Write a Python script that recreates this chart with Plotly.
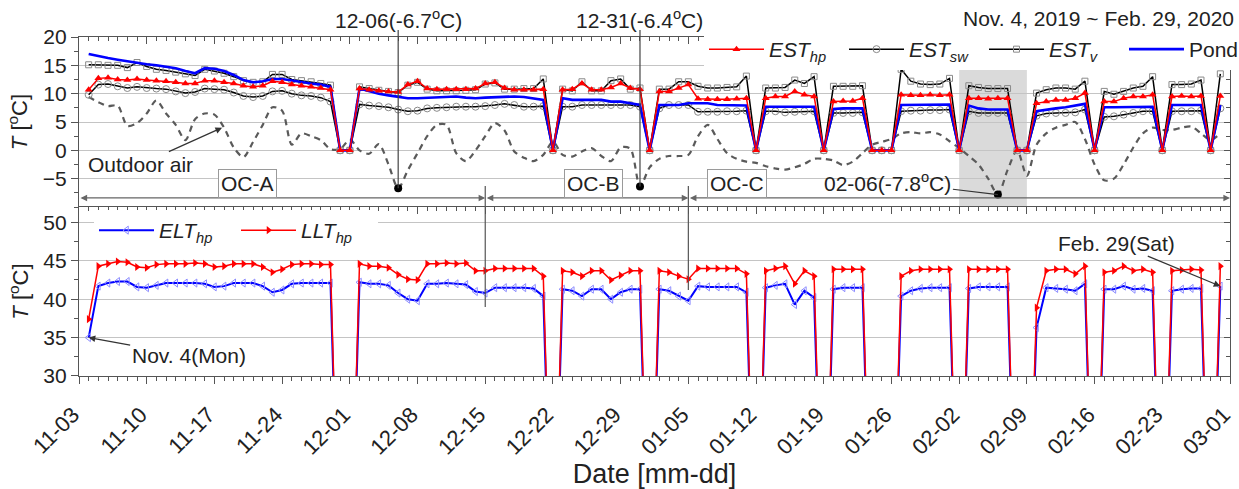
import pandas as pd
import plotly.graph_objects as go

# ---------------- data ----------------
dates = pd.date_range("2019-11-04", "2020-02-29", freq="D").strftime("%Y-%m-%d").tolist()

est_hp = [10.7, 12.7, 12.8, 12.5, 12.4, 12.6, 12.4, 12.3, 12.2, 12.0, 11.8, 11.8, 12.3, 12.3, 12.0, 11.8, 11.4, 11.2, 11.4, 12.2, 12.0, 11.6, 11.4, 11.2, 11.0, 10.7,
          0, 0,
          10.9, 10.7, 10.5, 10.4, 10.3, 11.6, 12.2, 10.9, 10.8, 10.8, 10.8, 10.8, 10.9, 11.8, 12.0, 11.0, 10.7, 10.7, 10.7, 10.8,
          0,
          10.7, 10.8, 11.8, 10.7, 10.7, 11.1, 11.8, 11.0, 10.8,
          0,
          10.4, 10.4, 11.0, 11.6, 9.1, 9.0, 9.0, 9.0, 9.1, 9.2,
          0,
          9.2, 9.5, 9.5, 10.4, 9.8, 9.5,
          0,
          8.6, 8.7, 8.7, 9.2,
          0, 0, 0,
          9.8, 9.7, 9.7, 9.8, 9.7, 9.8,
          0,
          9.2, 9.2, 9.1, 9.2, 9.2,
          0, 0,
          8.3, 8.6, 8.9, 8.9, 9.2, 10.1,
          0,
          8.6, 8.6, 9.2, 9.5, 9.5, 9.8,
          0,
          9.5, 9.6, 9.5, 9.6,
          0,
          9.6]

est_v = [15.1, 15.1, 15.0, 15.0, 14.6, 15.5, 14.8, 14.3, 14.1, 13.8, 13.5, 13.2, 14.3, 14.0, 13.6, 13.0, 12.3, 12.0, 12.1, 13.4, 13.4, 12.5, 12.3, 12.1, 11.8, 11.5,
         0, 0,
         11.2, 10.9, 10.6, 10.4, 10.2, 11.5, 12.0, 10.8, 10.5, 10.5, 10.5, 10.6, 10.7, 11.7, 11.9, 10.8, 10.8, 10.9, 10.9, 12.6,
         0,
         10.8, 10.5, 12.1, 10.5, 10.5, 12.3, 12.6, 10.8, 11.0,
         0,
         10.8, 10.8, 12.1, 12.1, 11.3, 11.0, 11.0, 11.1, 11.2, 13.1,
         0,
         11.0, 11.0, 11.1, 12.4, 11.8, 13.0,
         0,
         11.3, 11.3, 11.3, 11.4,
         0, 0, 0,
         14.3, 12.2, 11.7, 11.6, 11.7, 12.7,
         0,
         11.4, 11.1, 10.9, 10.9, 10.9,
         0, 0,
         10.1, 10.7, 11.0, 11.0, 10.8, 12.2,
         0,
         10.4, 9.9, 10.4, 11.0, 11.3, 13.0,
         0,
         11.6, 11.6, 11.7, 12.4,
         0,
         13.5]

est_sw = [9.8, 11.6, 11.7, 11.3, 11.0, 11.2, 11.0, 10.9, 10.8, 10.4, 10.1, 10.3, 10.9, 10.8, 10.7, 10.2, 9.6, 9.4, 9.6, 10.4, 10.5, 10.0, 9.7, 9.6, 9.3, 8.6,
          0, 0,
          8.1, 7.9, 7.8, 7.6, 7.2, 6.9, 7.0, 7.4, 7.5, 7.6, 7.7, 7.7, 7.7, 7.8, 8.0, 8.2, 8.0, 7.7, 7.7, 7.8,
          0,
          7.7, 7.7, 8.0, 8.0, 8.0, 8.0, 8.0, 8.0, 7.7,
          0,
          7.4, 8.0, 8.0, 8.0, 6.8, 6.8, 6.8, 6.9, 6.9, 7.0,
          0,
          6.9, 6.9, 6.7, 6.8, 6.9, 6.9,
          0,
          6.6, 6.6, 6.6, 6.7,
          0, 0, 0,
          6.9, 7.0, 7.0, 7.1, 7.1, 7.2,
          0,
          6.9, 6.6, 6.6, 6.6, 6.6,
          0, 0,
          6.1, 6.5, 6.6, 6.6, 6.7, 7.2,
          0,
          5.9, 6.0, 6.3, 6.6, 6.9, 6.9,
          0,
          6.9, 6.9, 6.9, 7.0,
          0,
          7.4]

pond = [17.0, 16.6, 16.3, 16.0, 15.7, 15.5, 15.2, 15.0, 14.8, 14.5, 14.0, 13.6, 14.5, 14.4, 14.0, 13.3, 12.4, 12.0, 12.2, 12.6, 12.6, 12.3, 12.0, 11.8, 11.6, 11.2,
        0, 0,
        10.9, 10.4, 10.0, 9.7, 9.4, 9.2, 9.2, 9.3, 9.4, 9.5, 9.5, 9.3, 9.2, 9.3, 9.4, 9.5, 9.5, 9.4, 9.2, 8.9,
        0,
        9.2, 8.9, 8.9, 8.9, 8.9, 8.6, 8.6, 8.3, 8.0,
        0,
        8.0, 8.0, 8.0, 8.3, 8.3, 8.3, 8.0, 8.0, 8.0, 7.9,
        0,
        7.7, 7.7, 7.7, 7.8, 7.7, 7.7,
        0,
        7.3, 7.4, 7.4, 7.4,
        0, 0, 0,
        8.0, 8.0, 8.0, 8.0, 8.1, 8.1,
        0,
        7.9, 7.4, 7.2, 7.2, 7.2,
        0, 0,
        6.9, 7.2, 7.4, 7.6, 7.9, 8.2,
        0,
        7.6, 7.6, 7.6, 7.7, 7.7, 7.7,
        0,
        8.0, 8.0, 8.0, 8.0,
        0,
        8.0]

outdoor = [9.4, 8.5, 7.8, 7.9, 4.3, 4.8, 6.5, 8.8, 6.5, 4.5, 1.8, 5.5, 6.5, 6.3, 4.0, 0.5, -1.2, 1.5, 4.5, 7.6, 7.0, 1.0, 3.0, 2.5, 1.8, 0.2,
           0.2, 1.9, 0.0, -0.6, 1.1, -2.5, -6.7,
           -3.5, -0.5, 2.5, 4.5, 4.5, -0.5, -1.9, 0.0, 2.5, 4.8, 3.5, -0.2, -1.3, -1.9, -0.8, 1.5, -0.8, -1.1, -0.2, 0.4, -1.0, -1.9, 0.5, 0.3, -6.4,
           -3.0, -1.5, -1.0, -1.0, -0.8, 2.5, 4.5, 2.0, -0.5, -1.5, -2.0, -2.2, -2.8, -3.2, -3.4, -3.0, -2.4, -1.5, -1.5, -1.8, -2.6, -2.0, -0.5,
           1.0, 1.5, 2.0, 3.0, 3.2, 3.0, 3.2, 2.8, 1.6, 0.4, -1.0, -2.5, -5.0, -7.8, -3.5, 0.0, -4.5, 1.0, 3.0, 4.0, 4.5, 5.0, 2.0,
           -2.5, -5.3, -5.0, -2.5, 0.5, 3.0, 4.0, 3.6, 3.6, 4.0, 4.2, 3.0, 1.8, 3.0]

llt_hp = [37.4, 44.3, 44.6, 44.9, 44.8, 44.2, 44.1, 44.5, 44.6, 44.6, 44.6, 44.7, 44.6, 44.2, 44.3, 44.6, 44.6, 44.6, 44.2, 43.5, 43.9, 44.5, 44.6, 44.6, 44.5, 44.5,
          0, 0,
          44.6, 44.3, 44.3, 44.1, 43.2, 42.6, 42.5, 44.6, 44.6, 44.7, 44.6, 44.7, 43.7, 43.7, 44.0, 44.0, 44.0, 44.0, 44.0, 43.0,
          0,
          43.7, 43.5, 43.0, 43.7, 43.7, 42.5, 43.1, 43.7, 43.7,
          0,
          43.7, 43.5, 43.0, 42.6, 44.0, 44.0, 44.0, 44.0, 44.0, 43.3,
          0,
          43.7, 44.0, 44.3, 42.0, 43.7, 43.0,
          0,
          43.9, 43.9, 43.9, 43.9,
          0, 0, 0,
          43.0, 43.7, 43.9, 43.9, 43.9, 43.9,
          0,
          43.9, 43.9, 43.9, 43.9, 43.9,
          0, 0,
          38.9, 43.7, 43.9, 43.9, 43.3, 44.3,
          0,
          43.5, 43.7, 44.3, 43.7, 43.9, 43.5,
          0,
          43.7, 43.8, 43.9, 43.8,
          0,
          44.3]

elt_hp = [35.0, 41.7, 42.1, 42.3, 42.3, 41.6, 41.5, 41.8, 42.1, 42.1, 42.1, 42.1, 42.0, 41.6, 41.7, 42.1, 42.1, 42.1, 41.7, 40.9, 41.2, 42.0, 42.1, 42.1, 42.1, 42.1,
          0, 0,
          42.2, 42.0, 42.0, 41.8, 40.8, 40.0, 39.8, 42.0, 42.0, 42.1, 42.0, 41.9, 41.0, 40.8, 41.5, 41.5, 41.5, 41.5, 41.4, 40.4,
          0,
          41.3, 41.1, 40.4, 41.3, 41.3, 40.0, 40.9, 41.3, 41.3,
          0,
          41.3, 41.1, 40.4, 39.8, 41.7, 41.6, 41.6, 41.6, 41.6, 40.9,
          0,
          41.5, 41.8, 42.0, 39.3, 41.1, 40.2,
          0,
          41.3, 41.5, 41.5, 41.5,
          0, 0, 0,
          40.4, 41.1, 41.4, 41.5, 41.5, 41.5,
          0,
          41.4, 41.6, 41.6, 41.6, 41.6,
          0, 0,
          36.3, 41.5, 41.4, 41.3, 41.1, 42.0,
          0,
          41.3, 41.3, 41.7, 41.3, 41.4, 41.1,
          0,
          41.1, 41.3, 41.4, 41.4,
          0,
          41.7]

min_dates = ["2019-12-06", "2019-12-31", "2020-02-06"]
min_temps = [-6.7, -6.4, -7.8]

period_bounds = ["2019-11-03", "2019-12-15", "2020-01-05", "2020-03-01"]
period_names = ["OC-A", "OC-B", "OC-C"]
period_label_x = ["2019-11-20T10:00", "2019-12-26T04:00", "2020-01-10T01:00"]

# ---------------- style ----------------
FONT = "Arial, Liberation Sans, sans-serif"
AX = "#555555"
GRID = "#c4c4c4"
X0, X1 = "2019-11-03", "2020-03-01"
DAY = 86400000
TOP_DOM = [0.4985, 1.0]
BOT_DOM = [0.0, 0.4985]
TOP_RANGE = [-10, 20]
BOT_RANGE = [30, 52]
PLOT_L, PLOT_W, PLOT_B, PLOT_H = 79, 1151, 376, 339


def top_paper(v):
    return TOP_DOM[0] + (v - TOP_RANGE[0]) / (TOP_RANGE[1] - TOP_RANGE[0]) * (TOP_DOM[1] - TOP_DOM[0])


def py(pix):
    return (PLOT_B - pix) / PLOT_H


def px(pix):
    return (pix - PLOT_L) / PLOT_W


fig = go.Figure()

# top panel
fig.add_trace(go.Scatter(x=dates, y=outdoor, mode="lines", name="Outdoor air",
                         line=dict(color="#5a5a5a", width=2.2, dash="6px,5px", shape="spline", smoothing=0.8),
                         showlegend=False, xaxis="x", yaxis="y"))
fig.add_trace(go.Scatter(x=dates, y=est_v, mode="lines+markers", name="<i>EST<sub>v</sub></i>",
                         line=dict(color="black", width=1.5),
                         marker=dict(symbol="square-open", size=6, color="#8a8a8a", line=dict(width=1)),
                         legendrank=3, xaxis="x", yaxis="y"))
fig.add_trace(go.Scatter(x=dates, y=est_sw, mode="lines+markers", name="<i>EST<sub>sw</sub></i>",
                         line=dict(color="black", width=1.5),
                         marker=dict(symbol="circle-open", size=7, color="#8a8a8a", line=dict(width=1)),
                         legendrank=2, xaxis="x", yaxis="y"))
fig.add_trace(go.Scatter(x=dates, y=pond, mode="lines", name="Pond",
                         line=dict(color="#0000ff", width=2.6),
                         legendrank=4, xaxis="x", yaxis="y"))
fig.add_trace(go.Scatter(x=dates, y=est_hp, mode="lines+markers", name="<i>EST<sub>hp</sub></i>",
                         line=dict(color="#ff0000", width=1.5),
                         marker=dict(symbol="triangle-up", size=7, color="#ff0000"),
                         legendrank=1, xaxis="x", yaxis="y"))
fig.add_trace(go.Scatter(x=min_dates, y=min_temps, mode="markers", showlegend=False,
                         marker=dict(symbol="circle", size=8, color="black"), cliponaxis=False,
                         xaxis="x", yaxis="y"))

# bottom panel
fig.add_trace(go.Scatter(x=dates, y=elt_hp, mode="lines+markers", name="<i>ELT<sub>hp</sub></i>",
                         line=dict(color="#0000ff", width=2),
                         marker=dict(symbol="triangle-left-open", size=7, color="#8c8cff", line=dict(width=1)),
                         legend="legend2", legendrank=1, xaxis="x2", yaxis="y2"))
fig.add_trace(go.Scatter(x=dates, y=llt_hp, mode="lines+markers", name="<i>LLT<sub>hp</sub></i>",
                         line=dict(color="#ff0000", width=1.5),
                         marker=dict(symbol="triangle-right", size=7, color="#ff0000"),
                         legend="legend2", legendrank=2, xaxis="x2", yaxis="y2"))

# helper traces so the mirrored tick axes render
for xa, ya in (("x3", "y2"), ("x", "y3"), ("x2", "y4")):
    fig.add_trace(go.Scatter(x=[None], y=[None], mode="lines", showlegend=False,
                             hoverinfo="skip", xaxis=xa, yaxis=ya))

xcommon = dict(type="date", range=[X0, X1], tick0=X0, dtick=7 * DAY, tickformat="%m-%d",
               showgrid=False, zeroline=False, showline=True, linecolor=AX, linewidth=1.3,
               tickcolor=AX, ticklen=7, tickwidth=1.2, automargin=False)

fig.update_layout(
    width=1239, height=489,
    margin=dict(l=79, r=9, t=37, b=113, autoexpand=False),
    paper_bgcolor="white", plot_bgcolor="white",
    font=dict(family=FONT, size=20, color="#222222"),
    xaxis=dict(**xcommon, domain=[0, 1], anchor="y", side="top", ticks="inside", showticklabels=False,
               minor=dict(dtick=DAY, ticks="inside", ticklen=4, tickcolor=AX)),
    xaxis2=dict(**xcommon, domain=[0, 1], anchor="y2", side="bottom", ticks="outside",
                tickangle=-45, tickfont=dict(size=22, color="#222222"), ticklabelstandoff=9,
                ticklabelshift=-6, ticklabeloverflow="allow",
                minor=dict(dtick=DAY, ticks="outside", ticklen=4, tickcolor=AX),
                title=dict(text="Date [mm-dd]", font=dict(size=27, color="#222222"), standoff=2)),
    xaxis3=dict(**xcommon, overlaying="x2", anchor="y2", side="top", ticks="inside", showticklabels=False,
                minor=dict(dtick=DAY, ticks="inside", ticklen=4, tickcolor=AX)),
    yaxis=dict(domain=TOP_DOM, anchor="x", range=TOP_RANGE, tickmode="array", automargin=False,
               tickvals=[-5, 0, 5, 10, 15, 20], ticks="outside", ticklen=7, tickcolor=AX, tickwidth=1.2,
               showline=True, linecolor=AX, linewidth=1.3, showgrid=True, gridcolor=GRID, gridwidth=1,
               zeroline=False, tickfont=dict(size=21, color="#222222"),
               minor=dict(tickmode="array", tickvals=[-7.5, -2.5, 2.5, 7.5, 12.5, 17.5],
                          ticks="outside", ticklen=4, tickcolor=AX, showgrid=False),
               title=dict(text="<i>T</i> [<sup>o</sup>C]", font=dict(size=22, color="#222222"), standoff=8)),
    yaxis3=dict(overlaying="y", anchor="x", side="right", range=TOP_RANGE, tickmode="linear", tick0=-10,
                dtick=5, ticks="inside", ticklen=6, tickcolor=AX, showticklabels=False, showgrid=False,
                zeroline=False, showline=True, linecolor=AX, linewidth=1.3, automargin=False,
                minor=dict(dtick=2.5, ticks="inside", ticklen=4, tickcolor=AX)),
    yaxis2=dict(domain=BOT_DOM, anchor="x2", range=BOT_RANGE, tickmode="array", automargin=False,
                tickvals=[30, 35, 40, 45, 50], ticks="outside", ticklen=7, tickcolor=AX, tickwidth=1.2,
                showline=True, linecolor=AX, linewidth=1.3, showgrid=True, gridcolor=GRID, gridwidth=1,
                zeroline=False, tickfont=dict(size=21, color="#222222"),
                minor=dict(tickmode="array", tickvals=[32.5, 37.5, 42.5, 47.5, 52],
                           ticks="outside", ticklen=4, tickcolor=AX, showgrid=False),
                title=dict(text="<i>T</i> [<sup>o</sup>C]", font=dict(size=22, color="#222222"), standoff=8)),
    yaxis4=dict(overlaying="y2", anchor="x2", side="right", range=BOT_RANGE, tickmode="linear", tick0=30,
                dtick=5, ticks="inside", ticklen=6, tickcolor=AX, showticklabels=False, showgrid=False,
                zeroline=False, showline=True, linecolor=AX, linewidth=1.3, automargin=False,
                minor=dict(dtick=2.5, ticks="inside", ticklen=4, tickcolor=AX)),
    legend=dict(orientation="h", x=px(1264), xanchor="right", y=py(29), yanchor="top",
                bgcolor="white", borderwidth=0, font=dict(size=21, color="#222222"),
                itemwidth=55, entrywidth=70, entrywidthmode="pixels", tracegroupgap=0),
    legend2=dict(orientation="h", x=px(94), xanchor="left", y=py(210), yanchor="top",
                 bgcolor="white", borderwidth=0, font=dict(size=21, color="#222222"),
                 itemwidth=55, entrywidth=72, entrywidthmode="pixels"),
    showlegend=True,
)

# shaded week and guide lines
fig.add_shape(type="rect", xref="x", yref="y", x0="2020-02-02", x1="2020-02-09", y0=-10, y1=15,
              fillcolor="#dadada", line=dict(width=0), layer="below")
for d, t in zip(min_dates[:2], min_temps[:2]):
    fig.add_shape(type="line", xref="x", yref="paper", x0=d, x1=d, y0=top_paper(t), y1=py(30),
                  line=dict(color="#444444", width=1.2))
for d, ybot in zip(period_bounds[1:3], [py(307), py(290)]):
    fig.add_shape(type="line", xref="x", yref="paper", x0=d, x1=d, y0=ybot, y1=py(186),
                  line=dict(color="#555555", width=1.2))

ann = []
# period arrows and labels
for i in range(3):
    ann.append(dict(xref="x", yref="y", axref="x", ayref="y", x=period_bounds[i + 1], y=-8.4,
                    ax=period_bounds[i], ay=-8.4, text="", showarrow=True, arrowside="end+start",
                    arrowhead=2, startarrowhead=2, arrowsize=1.1, startarrowsize=1.1,
                    arrowwidth=1.2, arrowcolor="#666666"))
    ann.append(dict(xref="x", yref="y", x=period_label_x[i], y=-5.8, text=period_names[i],
                    showarrow=False, bgcolor="white", bordercolor="#9a9a9a", borderwidth=1, borderpad=2,
                    font=dict(size=21, color="#222222")))

ann += [
    dict(xref="x", yref="paper", x=min_dates[0], y=py(19), yanchor="middle", text="12-06(-6.7<sup>o</sup>C)",
         showarrow=False, font=dict(size=21)),
    dict(xref="x", yref="paper", x=min_dates[1], y=py(19), yanchor="middle", text="12-31(-6.4<sup>o</sup>C)",
         showarrow=False, font=dict(size=21)),
    dict(xref="paper", yref="paper", x=px(1236), y=py(19), xanchor="right", yanchor="middle",
         text="Nov. 4, 2019 ~ Feb. 29, 2020", showarrow=False, font=dict(size=21)),
    dict(xref="x", yref="y", x=min_dates[2], y=min_temps[2], text="02-06(-7.8<sup>o</sup>C)",
         showarrow=True, ax=-110, ay=-13, arrowhead=0, arrowwidth=1.2, arrowcolor="#333333",
         font=dict(size=21)),
    dict(xref="x", yref="y", x="2019-11-17T19:00", y=4.0, text="Outdoor air", showarrow=True,
         ax=-82, ay=37, arrowhead=2, arrowsize=1.1, arrowwidth=1.2, arrowcolor="#333333",
         font=dict(size=21)),
    dict(xref="x2", yref="y2", x=dates[0], y=elt_hp[0], text="Nov. 4(Mon)", showarrow=True,
         ax=100, ay=18, arrowhead=2, arrowsize=1.1, arrowwidth=1.2, arrowcolor="#333333",
         font=dict(size=21)),
    dict(xref="x2", yref="y2", x=dates[-1], y=elt_hp[-1], text="Feb. 29(Sat)", showarrow=True,
         ax=-104, ay=-43, arrowhead=2, arrowsize=1.1, arrowwidth=1.2, arrowcolor="#333333",
         font=dict(size=21)),
]
fig.update_layout(annotations=ann)

fig.write_html("out.html")
